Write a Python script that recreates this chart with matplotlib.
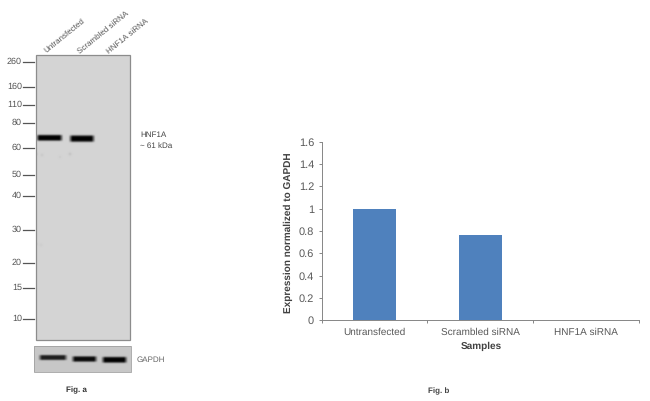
import matplotlib
matplotlib.use("Agg")
import matplotlib.pyplot as plt
import numpy as np

plt.rcParams['font.family'] = ['Liberation Sans', 'DejaVu Sans']
plt.rcParams['text.hinting'] = 'none'
plt.rcParams['text.hinting_factor'] = 1

# Bar chart data (Fig. b)
samples = ["Untransfected", "Scrambled siRNA", "HNF1A siRNA"]
expression = [1.0, 0.765, 0.0]
y_ticks = [0, 0.2, 0.4, 0.6, 0.8, 1, 1.2, 1.4, 1.6]
y_labels = ["0", "0.2", "0.4", "0.6", "0.8", "1", "1.2", "1.4", "1.6"]

# Blot data (Fig. a)
lanes = ["Untransfected", "Scrambled siRNA", "HNF1A siRNA"]
lane_x = [47, 81, 110]
lane_y = [54, 55, 55]
markers = ["260", "160", "110", "80", "60", "50", "40", "30", "20", "15", "10"]
marker_y = [61.5, 87, 105, 123, 148, 175, 196, 230, 263, 288, 319]
# x start, x end, y, half height, darkness
hnf_bands = [(37.5, 61.5, 137.8, 3.0, 1.0), (70.5, 93.5, 138.6, 3.3, 1.0)]
hnf_spots = [(36, 154, 1.5, .10), (42, 155, 1.5, .05), (60, 157, 1.2, .04),
             (70, 154, 1.5, .08), (36, 244, 1.5, .08), (41, 245, 1.5, .03)]
gapdh_bands = [(40, 66, 357.5, 2.6, .85), (73, 96, 359, 2.8, .95), (103, 126, 359.8, 3.0, 1.0)]

W, H = 650, 401
GREY = "#595959"


def blot_image(x0, x1, y0, y1, base, bands, spots=()):
    xs, ys = np.meshgrid(np.arange(x0, x1, 0.5) + 0.25, np.arange(y0, y1, 0.5) + 0.25)
    dark = np.zeros_like(xs)
    for a, b, yc, hh, d in bands:
        edge = np.clip((xs - a + 2) / 4, 0, 1) * np.clip((b - xs + 2) / 4, 0, 1)
        dark = np.maximum(dark, d * edge * np.exp(-((ys - yc) / hh) ** 4))
    for sx, sy, r, d in spots:
        dark += d * np.exp(-((xs - sx) ** 2 + (ys - sy) ** 2) / r ** 2)
    return np.clip(base * (1 - dark), 0, 1)


fig = plt.figure(figsize=(W / 100, H / 100), dpi=100)

# full-figure axes in pixel coordinates for the western blot side
page = fig.add_axes([0, 0, 1, 1])
page.axis("off")

x0, x1, y0, y1 = 36, 130, 55, 340
page.imshow(blot_image(x0, x1, y0, y1, 0.83, hnf_bands, hnf_spots), cmap="gray", vmin=0, vmax=1,
            extent=[x0, x1, y1, y0], aspect="auto", interpolation="bilinear")
page.add_patch(plt.Rectangle((x0, y0), x1 - x0, y1 - y0, fill=False, ec="#8c8c8c", lw=0.9))

x0, x1, y0, y1 = 34, 131, 346, 372
page.imshow(blot_image(x0, x1, y0, y1, 0.78, gapdh_bands), cmap="gray", vmin=0, vmax=1,
            extent=[x0, x1, y1, y0], aspect="auto", interpolation="bilinear")
page.add_patch(plt.Rectangle((x0, y0), x1 - x0, y1 - y0, fill=False, ec="#a0a0a0", lw=0.6))
page.set_xlim(0, W)
page.set_ylim(H, 0)

for lab, ym in zip(markers, marker_y):
    page.plot([23, 34], [ym, ym], color="#555555", lw=0.9)
    page.text(22, ym, lab, ha="right", va="center", fontsize=6.2, color="#555555")

for lab, lx, ly in zip(lanes, lane_x, lane_y):
    page.text(lx, ly, lab, rotation=39, ha="left", va="bottom", rotation_mode="anchor",
              fontsize=5.9, color="#555555")

page.text(140, 135, "HNF1A", ha="left", va="center", fontsize=5.8, color="#444444")
page.text(140, 146, "~ 61 kDa", ha="left", va="center", fontsize=5.8, color="#444444")
page.text(137, 360, "GAPDH", ha="left", va="center", fontsize=5.9, color="#666666")
page.text(76, 390, "Fig. a", ha="center", va="center", fontsize=5.8, fontweight="bold", color="#333333")
page.text(439, 391, "Fig. b", ha="center", va="center", fontsize=5.8, fontweight="bold", color="#444444")

# bar chart
left, right, top, bottom = 321.7, 639, 141.7, 320.3
ax = fig.add_axes([left / W, 1 - bottom / H, (right - left) / W, (bottom - top) / H])
ax.patch.set_alpha(0)
ax.bar(np.arange(len(samples)), expression, width=0.4, color="#4f81bd")
ax.set_xlim(-0.5, 2.5)
ax.set_ylim(0, 1.6)
ax.set_yticks(y_ticks)
ax.set_yticklabels(y_labels, fontsize=7.7, color=GREY)
ax.set_xticks(np.arange(len(samples)))
ax.set_xticklabels(samples, fontsize=7.2, color=GREY)
ax.set_xticks([-0.5, 0.5, 1.5, 2.5], minor=True)
ax.tick_params(axis="x", which="major", length=0, pad=5.5)
ax.tick_params(axis="x", which="minor", length=2.5, color="#868686", width=0.7)
ax.tick_params(axis="y", length=2.5, color="#868686", width=0.7, pad=3)
for side in ["top", "right"]:
    ax.spines[side].set_visible(False)
for side in ["left", "bottom"]:
    ax.spines[side].set_color("#868686")
    ax.spines[side].set_linewidth(0.7)

page.text(481.5, 346.7, "Samples", ha="center", va="center", fontsize=7.2, fontweight="bold", color="#404040")
page.text(288, 233, "Expression normalized to GAPDH", rotation=90, ha="center", va="center",
          fontsize=7.2, fontweight="bold", color="#404040")

fig.savefig("out.png", dpi=100)
